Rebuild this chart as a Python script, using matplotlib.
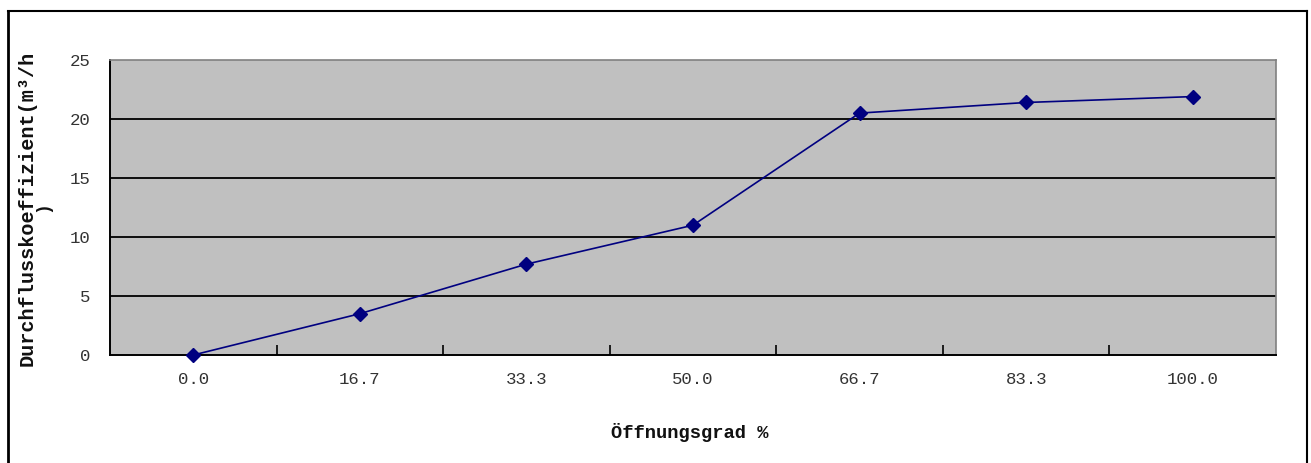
import matplotlib
matplotlib.use("Agg")
import matplotlib.pyplot as plt
from matplotlib.lines import Line2D

# Öffnungsgrad categories and flow coefficient values
categories = ["0.0", "16.7", "33.3", "50.0", "66.7", "83.3", "100.0"]
kv_values = [0.0, 3.5, 7.7, 11.0, 20.5, 21.4, 21.9]
y_ticks = [0, 5, 10, 15, 20, 25]

MONO = ["Liberation Mono", "DejaVu Sans Mono"]

W, H = 1311, 463
fig = plt.figure(figsize=(W / 100, H / 100), dpi=100)
fig.patch.set_facecolor("white")

# plot area in pixel coordinates
left, right, top, bottom = 110, 1276, 60, 355
ax = fig.add_axes([left / W, 1 - bottom / H, (right - left) / W, (bottom - top) / H])
ax.set_facecolor("#c0c0c0")

x = list(range(len(categories)))
ax.plot(x, kv_values, color="#000080", lw=1.2, marker="D", ms=7,
        mfc="#000080", mec="#000080", zorder=5, clip_on=False)

ax.set_xlim(-0.5, len(categories) - 0.5)
ax.set_ylim(0, 25)

# horizontal gridlines
for v in y_ticks[1:-1]:
    ax.axhline(v, color="black", lw=1.3, zorder=1)

# x tick marks on category boundaries, labels centred
ax.set_xticks([i + 0.5 for i in range(len(categories) - 1)])
ax.set_xticklabels([])
ax.set_xticks(x, minor=True)
ax.set_xticklabels(categories, minor=True, fontsize=12.5, family=MONO,
                   color="#333333")
ax.tick_params(axis="x", which="major", direction="in", length=7, width=1.2, color="black")
ax.tick_params(axis="x", which="minor", length=0, pad=12)

ax.set_yticks(y_ticks)
ax.set_yticklabels([str(v) for v in y_ticks], fontsize=12.5, family=MONO,
                   color="#333333")
ax.tick_params(axis="y", length=0, pad=14)

for side in ["left", "bottom"]:
    ax.spines[side].set_color("black")
    ax.spines[side].set_linewidth(1.4)
for side in ["top", "right"]:
    ax.spines[side].set_color("#808080")
    ax.spines[side].set_linewidth(1.2)

# axis titles
fig.text(690 / W, 1 - 432 / H, "Öffnungsgrad %", ha="center", va="center",
         fontsize=13.5, fontweight="bold", family=MONO, color="#111111")
fig.text(27 / W, 1 - 208 / H, "Durchflusskoeffizient(m³/h", rotation=90,
         ha="center", va="center", fontsize=14.5, fontweight="bold",
         family=MONO, color="#111111")
fig.text(43 / W, 1 - 207 / H, ")", rotation=90, ha="center", va="center",
         fontsize=13, fontweight="bold", family=MONO, color="#111111")

# outer frame
fx0, fx1, fy0 = 8 / W, 1307 / W, 1 - 11 / H
fig.add_artist(Line2D([fx0, fx0], [0, fy0], color="black", lw=2, transform=fig.transFigure))
fig.add_artist(Line2D([fx1, fx1], [0, fy0], color="black", lw=1.5, transform=fig.transFigure))
fig.add_artist(Line2D([fx0, fx1], [fy0, fy0], color="black", lw=1.5, transform=fig.transFigure))

fig.savefig("out.png", dpi=100)
